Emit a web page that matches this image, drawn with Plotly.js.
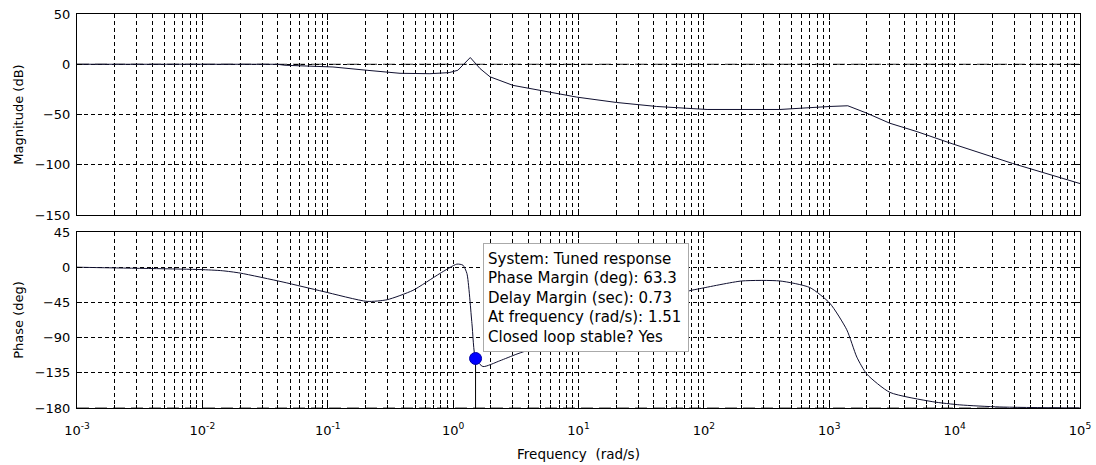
<!DOCTYPE html>
<html>
<head>
<meta charset="utf-8">
<script src="https://cdn.plot.ly/plotly-3.0.1.min.js"></script>
<style>html,body{margin:0;padding:0;background:#fff;}#chart{width:1096px;height:465px;}</style>
</head>
<body>
<div id="chart"></div>
<script>
// ---- data ----
const magFreq = [0.001, 0.0394, 0.0456, 0.11, 0.206, 0.377, 0.653, 0.93, 1.09, 1.37, 1.64, 1.97, 3.0, 4.9, 6.7, 9.7, 20, 42, 106, 404, 1010, 1406, 1995, 3044, 5000, 9680, 29000, 100000];
const magDb   = [0, 0, -1, -2.7, -6, -9, -9.4, -8.3, -6, 6.7, -4.3, -12.5, -21, -26, -29.3, -32.7, -38, -42, -45, -45, -42, -41.3, -48.7, -58.7, -67, -79.3, -98.7, -118.7];

const phaseFreq = [0.001, 0.00144, 0.00957, 0.0144, 0.02, 0.044, 0.0917, 0.206, 0.297, 0.478, 0.785, 1.07, 1.197, 1.288, 1.413, 1.51, 1.73, 2.36, 3.23, 7.1, 21.3, 44.5, 77.3, 93, 201, 404, 700, 1010, 1380, 1660, 1995, 3044, 6700, 11000, 22900, 100000];
const phaseDeg  = [0, -0.5, -3, -4.5, -7.5, -19, -31, -43.7, -41.6, -29.6, -8, 3.9, 2.6, -8, -72, -116.7, -127, -119.6, -111, -92, -62, -42, -30, -27.4, -17.6, -17.6, -26, -46, -80, -115, -136.7, -160, -172, -176, -178.7, -180];

const pmFreq = 1.51;
const pmPhase = -116.7;
const pmBase = -180;

const infoLines = ["System: Tuned response", "Phase Margin (deg): 63.3", "Delay Margin (sec): 0.73", "At frequency (rad/s): 1.51", "Closed loop stable? Yes"];

const decades = [-3, -2, -1, 0, 1, 2, 3, 4, 5];
const magTicks = [-150, -100, -50, 0, 50];
const phaseTicks = [-180, -135, -90, -45, 0, 45];

// ---- build tick tables ----
const majorVals = [], majorText = [], minorVals = [];
decades.forEach(function (d) {
  majorVals.push(Math.pow(10, d));
  majorText.push('10<sup>' + d + '</sup>');
  if (d < 5) {
    [2,3,4,5,6,7,8,9].forEach(function (k) { minorVals.push(k * Math.pow(10, d)); });
  }
});

const FONT = 'DejaVu Sans, Verdana, sans-serif';
const lineColor = '#101030';

const traces = [
  {x: magFreq, y: magDb, xaxis: 'x', yaxis: 'y', mode: 'lines', line: {color: lineColor, width: 1}, hoverinfo: 'skip'},
  {x: phaseFreq, y: phaseDeg, xaxis: 'x2', yaxis: 'y2', mode: 'lines', line: {color: lineColor, width: 1, shape: 'spline', smoothing: 0.6}, hoverinfo: 'skip'},
  {x: [pmFreq, pmFreq], y: [pmPhase, pmBase], xaxis: 'x2', yaxis: 'y2', mode: 'lines', line: {color: '#000', width: 1}, hoverinfo: 'skip'},
  {x: [pmFreq], y: [pmPhase], xaxis: 'x2', yaxis: 'y2', mode: 'markers', marker: {color: '#0000ff', size: 12, line: {color: '#0000aa', width: 1}}, hoverinfo: 'skip'}
];

const gridDash = '4px,3px';
function xAxis(anchor, showLabels) {
  return {
    type: 'log', range: [-3, 5], anchor: anchor,
    tickmode: 'array', tickvals: majorVals, ticktext: majorText,
    showticklabels: showLabels,
    tickangle: 0,
    showgrid: true, gridcolor: '#000', griddash: gridDash, gridwidth: 1,
    minor: {tickmode: 'array', tickvals: minorVals, showgrid: true, gridcolor: '#000', griddash: gridDash, gridwidth: 1, ticks: 'inside', ticklen: 3, tickcolor: '#000'},
    showline: true, linecolor: '#000', linewidth: 1, mirror: 'ticks',
    ticks: 'inside', ticklen: 6, tickcolor: '#000',
    tickfont: {family: FONT, size: 13, color: '#000'},
    ticklabelstandoff: 10,
    zeroline: false
  };
}
function yAxis(domain, range, vals, anchor, title) {
  return {
    domain: domain, range: range, anchor: anchor,
    tickmode: 'array', tickvals: vals,
    showgrid: true, gridcolor: '#000', griddash: gridDash, gridwidth: 1,
    showline: true, linecolor: '#000', linewidth: 1, mirror: 'ticks',
    ticks: 'inside', ticklen: 5, tickcolor: '#000', zeroline: false,
    tickfont: {family: FONT, size: 13, color: '#000'},
    ticklabelstandoff: 3,
    title: {text: title, font: {family: FONT, size: 13, color: '#000'}, standoff: 8}
  };
}

const layout = {
  width: 1096, height: 465,
  margin: {l: 77, r: 16, t: 14, b: 57},
  paper_bgcolor: '#fff', plot_bgcolor: '#fff',
  showlegend: false,
  font: {family: FONT, size: 13, color: '#000'},
  xaxis: xAxis('y', false),
  xaxis2: Object.assign(xAxis('y2', true), {
    title: {text: 'Frequency  (rad/s)', font: {family: FONT, size: 13.5, color: '#000'}, standoff: 12}
  }),
  yaxis: yAxis([0.4898, 1], [-150, 50], magTicks, 'x', 'Magnitude (dB)'),
  yaxis2: yAxis([0, 0.4467], [-180, 45], phaseTicks, 'x2', 'Phase (deg)'),
  shapes: [
    {type: 'line', xref: 'x domain', yref: 'y', x0: 0, x1: 1, y0: 0, y1: 0, line: {color: '#333', width: 1, dash: '12px,6px'}, layer: 'below'},
    {type: 'line', xref: 'x2 domain', yref: 'y2', x0: 0, x1: 1, y0: -180, y1: -180, line: {color: '#333', width: 1, dash: '12px,6px'}, layer: 'below'}
  ],
  annotations: [{
    xref: 'paper', yref: 'paper', x: 0.4048, y: 0.4188, xanchor: 'left', yanchor: 'top',
    width: 196, height: 99,
    text: infoLines.join('<br>'), align: 'left', valign: 'middle', showarrow: false,
    font: {family: FONT, size: 15, color: '#000'},
    bgcolor: '#fff', bordercolor: '#aaa', borderwidth: 1, borderpad: 4
  }]
};

Plotly.newPlot('chart', traces, layout, {staticPlot: true, displayModeBar: false});
</script>
</body>
</html>
